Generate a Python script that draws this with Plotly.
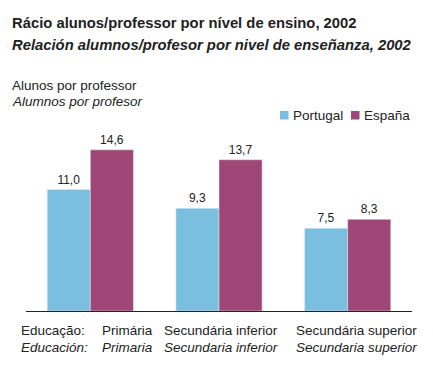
import plotly.graph_objects as go

categories = ["Primária", "Secundária inferior", "Secundária superior"]
categories_es = ["Primaria", "Secundaria inferior", "Secundaria superior"]
portugal = [11.0, 9.3, 7.5]
espana = [14.6, 13.7, 8.3]
series_names = ["Portugal", "España"]

def fmt(v):
    return f"{v:.1f}".replace(".", ",")

FONT = "Liberation Sans, Arial, sans-serif"
blue = "#7bbfe0"
purple = "#9e4777"
colors = [blue, purple]

W, H = 433, 374
L, R, T, B = 26, 21, 120, 63
PW, PH = W - L - R, H - T - B

def px(x):
    return (x - L) / PW

def py(y):
    return (H - B - y) / PH

fig = go.Figure()
for name, vals, col in zip(series_names, [portugal, espana], colors):
    fig.add_trace(go.Bar(x=categories, y=vals, name=name, marker_color=col,
                         text=[fmt(v) for v in vals], textposition="outside",
                         textfont=dict(size=12, color="#222", family=FONT), cliponaxis=False,
                         hoverinfo="skip"))

fig.update_layout(
    width=W, height=H,
    margin=dict(l=L, r=R, t=T, b=B),
    paper_bgcolor="white", plot_bgcolor="white",
    font=dict(family=FONT, size=12, color="#222"),
    barmode="group", bargap=0.33, bargroupgap=0,
    showlegend=False,
    xaxis=dict(showticklabels=False, showline=True, linecolor="#222", linewidth=1,
               ticks="", showgrid=False, zeroline=False),
    yaxis=dict(visible=False, range=[0, 17.3], showgrid=False, zeroline=False),
)

ann = []
def add(text, x, y, anchor="left", size=13.5):
    ann.append(dict(text=text, xref="paper", yref="paper", showarrow=False,
                    x=px(x), y=py(y), xanchor=anchor, yanchor="middle",
                    font=dict(size=size, color="#222", family=FONT)))

add("<b>Rácio alunos/professor por nível de ensino, 2002</b>", 10, 23, size=14.8)
add("<b><i>Relación alumnos/profesor por nivel de enseñanza, 2002</i></b>", 10, 45, size=14.8)
add("Alunos por professor", 10, 86)
add("<i>Alumnos por profesor</i>", 10, 101)
add("Educação:", 19, 330)
add("<i>Educación:</i>", 19, 347)
xs = [155, 280, 419]
for i, c in enumerate(categories):
    add(c, xs[i], 330, "right")
    add(f"<i>{categories_es[i]}</i>", xs[i], 347, "right")

# legend
leg_x = [280, 351]
shapes = []
for name, col, lx in zip(series_names, colors, leg_x):
    shapes.append(dict(type="rect", xref="paper", yref="paper",
                       x0=px(lx), x1=px(lx + 8.5), y0=py(119.5), y1=py(111),
                       fillcolor=col, line=dict(width=0)))
    add(name, lx + 10.5, 115.5)

fig.update_layout(annotations=ann, shapes=shapes)
fig.write_html("out.html", config={"displayModeBar": False},
               post_script="document.body.style.margin='0';document.body.style.padding='0';")
